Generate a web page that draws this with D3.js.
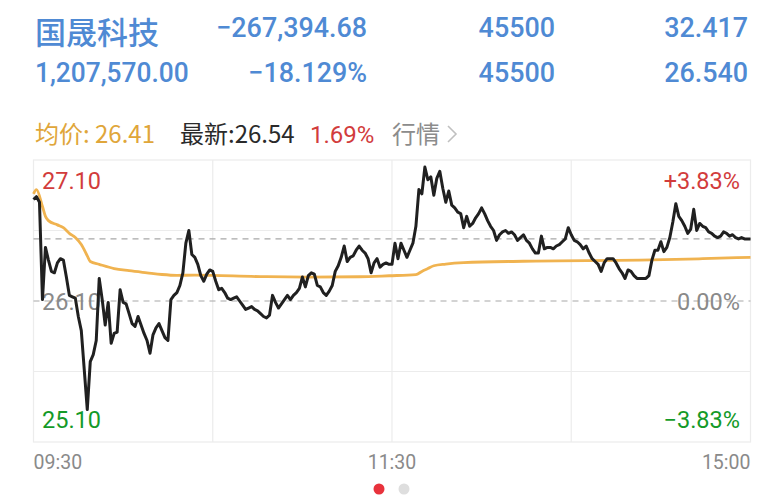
<!DOCTYPE html>
<html><head><meta charset="utf-8">
<script src="https://cdn.jsdelivr.net/npm/d3@7"></script>
<style>html,body{margin:0;padding:0;background:#fff;} svg{display:block;}</style>
</head><body><svg id="c" width="784" height="500"></svg>
<script>
// ---------- data ----------
const stockName = "国晟科技";
const headerRow1 = ["−267,394.68", "45500", "32.417"];
const headerRow2 = ["1,207,570.00", "−18.129%", "45500", "26.540"];
const avgText = "均价: 26.41";
const latestText = "最新:26.54";
const changeText = "1.69%";
const linkText = "行情";
const prevClose = 26.10;
const priceTop = 27.10, priceBottom = 25.10;
const priceLabels = ["27.10", "26.10", "25.10"];
const pctLabels = ["+3.83%", "0.00%", "−3.83%"];
const timeLabels = ["09:30", "11:30", "15:00"];
const latestPrice = 26.54;
// one value per trading minute (0 = 09:30, 120 = 11:30/13:00, 240 = 15:00)
const prices = [
26.82,26.84,26.80,26.11,26.48,26.39,26.31,26.30,26.37,26.40,
26.39,26.27,26.14,26.13,26.12,25.99,25.89,25.61,25.33,25.67,
25.72,25.82,26.26,26.11,25.93,26.09,25.80,25.87,25.88,26.18,
26.09,26.08,26.01,25.94,25.92,25.99,25.93,25.87,25.82,25.73,
25.86,25.91,25.94,25.89,25.84,25.82,26.11,26.14,26.16,26.21,
26.30,26.51,26.60,26.43,26.41,26.36,26.28,26.24,26.29,26.32,
26.31,26.24,26.18,26.19,26.16,26.12,26.11,26.12,26.13,26.10,
26.07,26.04,26.05,26.06,26.04,26.03,26.01,25.99,25.98,26.00,
26.14,26.09,26.05,26.08,26.11,26.14,26.11,26.14,26.16,26.19,
26.27,26.20,26.28,26.30,26.29,26.21,26.20,26.16,26.14,26.17,
26.21,26.31,26.35,26.41,26.49,26.38,26.41,26.42,26.46,26.49,
26.46,26.44,26.40,26.30,26.37,26.40,26.34,26.36,26.37,26.36,
26.36,26.51,26.40,26.51,26.46,26.41,26.46,26.51,26.63,26.89,
26.86,27.05,26.96,26.98,26.85,26.97,27.02,26.90,26.80,26.88,
26.78,26.76,26.73,26.72,26.62,26.70,26.63,26.65,26.69,26.72,
26.76,26.72,26.67,26.63,26.60,26.53,26.57,26.59,26.60,26.58,
26.59,26.57,26.53,26.55,26.57,26.53,26.51,26.47,26.44,26.44,
26.56,26.47,26.48,26.48,26.47,26.49,26.50,26.52,26.54,26.62,
26.57,26.53,26.52,26.50,26.47,26.49,26.44,26.40,26.38,26.36,
26.31,26.37,26.40,26.40,26.40,26.37,26.33,26.30,26.26,26.32,
26.31,26.28,26.26,26.26,26.26,26.26,26.28,26.39,26.46,26.46,
26.52,26.45,26.48,26.55,26.66,26.79,26.70,26.67,26.63,26.58,
26.61,26.75,26.60,26.65,26.63,26.62,26.59,26.58,26.56,26.55,
26.56,26.59,26.58,26.56,26.57,26.55,26.54,26.55,26.54,26.54,26.54
];
const avgMinutes = [0,1,3,4,5,8,10,12,14,16,18,19,22,27,32,38,43,48,54,76,92,109,119,128,130,132,134,138,144,164,207,224,240];
const avgValues  = [26.86,26.89,26.77,26.70,26.67,26.64,26.62,26.58,26.55,26.50,26.42,26.38,26.36,26.33,26.315,26.30,26.288,26.282,26.283,26.273,26.270,26.272,26.279,26.287,26.31,26.33,26.35,26.362,26.372,26.382,26.391,26.40,26.41];

// ---------- drawing ----------
const svg = d3.select("#c");
const FONT = "Roboto, 'Noto Sans CJK SC', sans-serif";
const CJK = "'Noto Sans CJK SC', Roboto, sans-serif";
const blue = "#4f8ad4", red = "#d23c3c", green = "#149a28", gray = "#8a8a8a";

const L = 33.5, R = 750.5, T = 160, B = 442;
const x = d3.scaleLinear().domain([0, 240]).range([L, R]);
const y = d3.scaleLinear().domain([priceBottom, priceTop]).range([B, T]);

function scaledText(xx, yy, t, anchor, size, sx, color, family, weight) {
  return svg.append("text").attr("x", xx).attr("y", yy).attr("text-anchor", anchor)
    .attr("font-family", family).attr("font-size", size).attr("font-weight", weight || 400)
    .attr("fill", color)
    .attr("transform", `translate(${xx},0) scale(${sx},1) translate(${-xx},0)`).text(t);
}

// header
scaledText(35, 44, stockName, "start", 31, 1, blue, CJK, 500);
const colEnds = [367, 555, 748];
headerRow1.forEach((t, i) => scaledText(colEnds[i], 37, t, "end", 28, 0.96, blue, FONT, 500));
const col2 = [35, 367, 555, 748];
headerRow2.forEach((t, i) => scaledText(col2[i], 82, t, i === 0 ? "start" : "end", 28, i === 0 ? 0.94 : 0.96, blue, FONT, 500));

// info row
scaledText(35, 143, avgText, "start", 24, 1, "#e0a63a", CJK);
scaledText(180, 143, latestText, "start", 24, 1, "#2a2a2a", CJK);
scaledText(310, 143, changeText, "start", 24, 1, red, FONT);
scaledText(392, 143, linkText, "start", 24, 1, "#8c8c8c", CJK);
svg.append("path").attr("d", "M448,126 L456,134 L448,142").attr("fill", "none")
  .attr("stroke", "#c0c0c0").attr("stroke-width", 1.6);

// frame & grid
const grid = svg.append("g").attr("stroke", "#ececec").attr("stroke-width", 1.2).attr("fill", "none");
grid.append("rect").attr("x", L).attr("y", T).attr("width", R - L).attr("height", B - T);
[60, 120, 180].forEach(m => grid.append("line").attr("x1", x(m)).attr("x2", x(m)).attr("y1", T).attr("y2", B));
[prevClose + 0.5, prevClose - 0.5].forEach(p => grid.append("line").attr("x1", L).attr("x2", R).attr("y1", y(p)).attr("y2", y(p)));
[prevClose, latestPrice].forEach(p => svg.append("line").attr("x1", L).attr("x2", R)
  .attr("y1", y(p)).attr("y2", y(p)).attr("stroke", "#a8a8a8").attr("stroke-width", 1.2)
  .attr("stroke-dasharray", "6,5"));

// axis labels (under the lines)
const lblY = [189, 310, 428];
const lblColors = [red, gray, green];
priceLabels.forEach((t, i) => scaledText(42, lblY[i], t, "start", 23.5, 1, lblColors[i], FONT));
pctLabels.forEach((t, i) => scaledText(740, lblY[i], t, "end", 23.5, 1, lblColors[i], FONT));

// lines
const avgData = avgMinutes.map((m, i) => [m, avgValues[i]]);
svg.append("path").datum(avgData).attr("fill", "none").attr("stroke", "#f0b350").attr("stroke-width", 2.8)
  .attr("d", d3.line().x(d => x(d[0])).y(d => y(d[1])).curve(d3.curveMonotoneX));
svg.append("path").datum(prices).attr("fill", "none").attr("stroke", "#202020").attr("stroke-width", 3)
  .attr("stroke-linejoin", "round")
  .attr("d", d3.line().x((d, i) => x(i)).y(d => y(d)));

const tAnch = ["start", "middle", "end"];
const tX = [L, x(120), R];
timeLabels.forEach((t, i) => scaledText(tX[i], 469, t, tAnch[i], 21, 0.93, gray, FONT));

// page dots
svg.append("circle").attr("cx", 379).attr("cy", 489).attr("r", 5.5).attr("fill", "#e8323c");
svg.append("circle").attr("cx", 404).attr("cy", 489).attr("r", 5.5).attr("fill", "#dedede");
</script></body></html>
